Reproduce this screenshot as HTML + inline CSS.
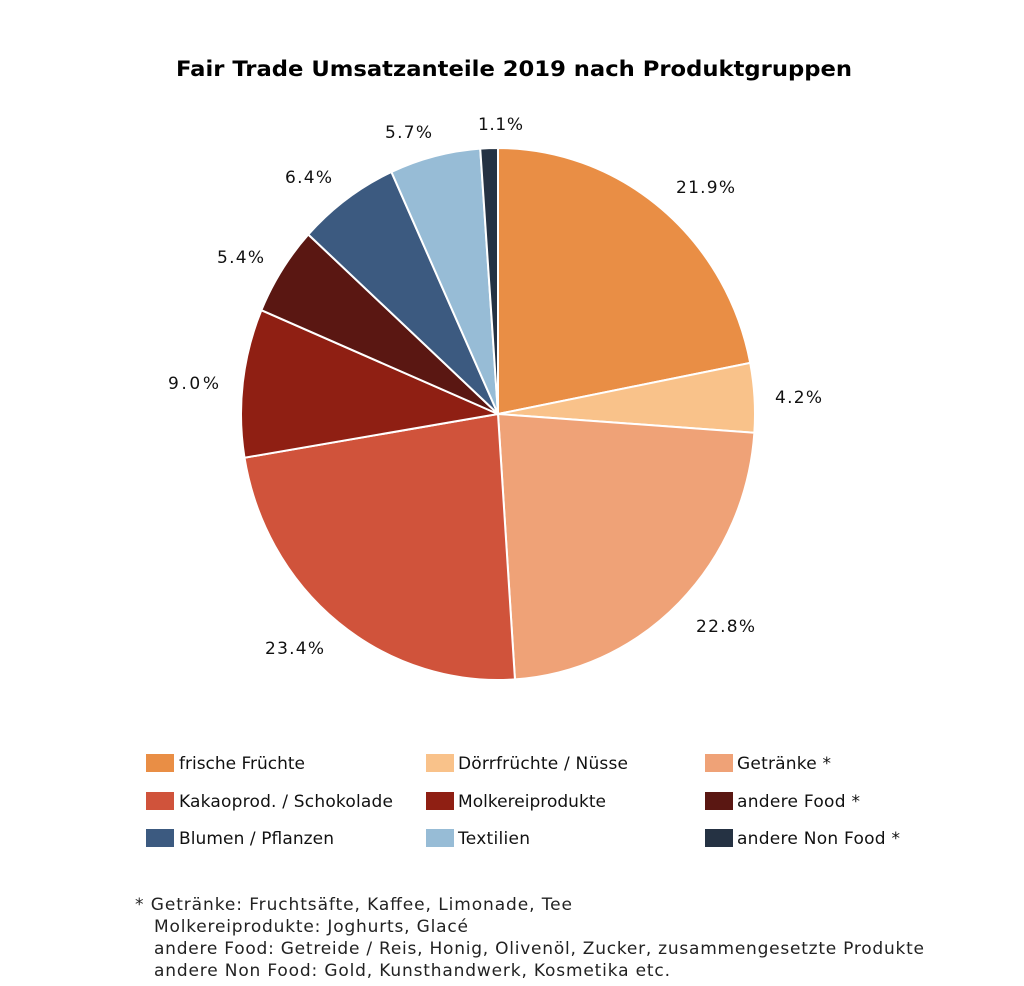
<!DOCTYPE html>
<html><head><meta charset="utf-8"><style>
body{margin:0;background:#fff;width:1024px;height:982px;overflow:hidden;font-family:"DejaVu Sans","Liberation Sans",sans-serif;}
</style></head><body>
<svg id="s" width="1024" height="982" xmlns="http://www.w3.org/2000/svg" font-family="DejaVu Sans, Liberation Sans, sans-serif">
<rect width="1024" height="982" fill="#fff"/>
<text x="176" y="76" font-weight="bold" font-size="21" fill="#000" textLength="676" lengthAdjust="spacingAndGlyphs">Fair Trade Umsatzanteile 2019 nach Produktgruppen</text>
<g id="pie"></g>
<g font-size="17" fill="#111">
<text x="676" y="193" textLength="59">21.9%</text>
<text x="775" y="403" textLength="47">4.2%</text>
<text x="696" y="632" textLength="59">22.8%</text>
<text x="265" y="654" textLength="59">23.4%</text>
<text x="168" y="389" textLength="51">9.0%</text>
<text x="217" y="263" textLength="47">5.4%</text>
<text x="285" y="183" textLength="47">6.4%</text>
<text x="385" y="138" textLength="47">5.7%</text>
<text x="478" y="130" textLength="45">1.1%</text>
</g>
<g font-size="17" fill="#111">
<rect x="146" y="754" width="28" height="18" fill="#E98E45"/><text x="179" y="769" textLength="126">frische Früchte</text>
<rect x="426" y="754" width="28" height="18" fill="#F9C28A"/><text x="458" y="769" textLength="170">Dörrfrüchte / Nüsse</text>
<rect x="705" y="754" width="28" height="18" fill="#EFA277"/><text x="737" y="769" textLength="94">Getränke *</text>
<rect x="146" y="792" width="28" height="18" fill="#D0533B"/><text x="179" y="807" textLength="214">Kakaoprod. / Schokolade</text>
<rect x="426" y="792" width="28" height="18" fill="#8F1F13"/><text x="458" y="807" textLength="148">Molkereiprodukte</text>
<rect x="705" y="792" width="28" height="18" fill="#5A1712"/><text x="737" y="807" textLength="123">andere Food *</text>
<rect x="146" y="829" width="28" height="18" fill="#3C5A80"/><text x="179" y="844" textLength="155">Blumen / Pflanzen</text>
<rect x="426" y="829" width="28" height="18" fill="#97BCD6"/><text x="458" y="844" textLength="72">Textilien</text>
<rect x="705" y="829" width="28" height="18" fill="#253243"/><text x="737" y="844" textLength="163">andere Non Food *</text>
</g>
<g font-size="17" fill="#222">
<text x="135" y="910" textLength="437">* Getränke: Fruchtsäfte, Kaffee, Limonade, Tee</text>
<text x="154" y="932" textLength="314">Molkereiprodukte: Joghurts, Glacé</text>
<text x="154" y="954" textLength="770">andere Food: Getreide / Reis, Honig, Olivenöl, Zucker, zusammengesetzte Produkte</text>
<text x="154" y="976" textLength="516">andere Non Food: Gold, Kunsthandwerk, Kosmetika etc.</text>
</g>
</svg>
<script>
var d=[[21.9,"#E98E45"],[4.2,"#F9C28A"],[22.8,"#EFA277"],[23.4,"#D0533B"],[9.0,"#8F1F13"],[5.4,"#5A1712"],[6.4,"#3C5A80"],[5.7,"#97BCD6"],[1.1,"#253243"]];
var tot=0;d.forEach(function(x){tot+=x[0]});
var cx=498,cy=414,rx=257,ry=266,a=0,h="";
function p(t){var an=t*2*Math.PI;return [cx+rx*Math.sin(an),cy-ry*Math.cos(an)];}
d.forEach(function(x){var s=p(a/tot);var b=a+x[0];var e=p(b/tot);var l=(x[0]/tot>0.5)?1:0;
h+='<path d="M'+cx+','+cy+' L'+s[0]+','+s[1]+' A'+rx+','+ry+' 0 '+l+' 1 '+e[0]+','+e[1]+' Z" fill="'+x[1]+'" stroke="#fff" stroke-width="2"/>';a=b;});
document.getElementById("pie").innerHTML=h;
</script>
</body></html>
